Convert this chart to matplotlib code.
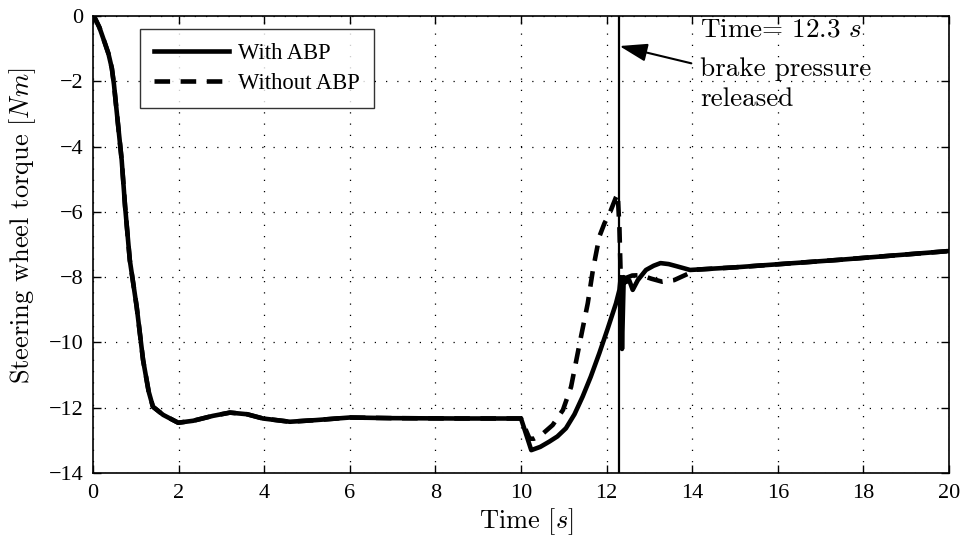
import matplotlib
matplotlib.use("Agg")
import matplotlib.pyplot as plt

# Steering wheel torque during braking, with and without ABP
t_with = [0, 0.05, 0.15, 0.28, 0.36, 0.44, 0.49, 0.55, 0.67, 0.75, 0.86, 1.02, 1.17, 1.30, 1.40,
          1.64, 1.99, 2.34, 2.8, 3.2, 3.6, 3.97, 4.6, 5.2, 6.0, 7.0, 8.56, 9.5,
          10.0, 10.24, 10.45, 10.66, 10.85, 11.05, 11.25, 11.44, 11.63, 11.83,
          12.02, 12.22, 12.30, 12.33, 12.36, 12.40, 12.45, 12.53, 12.61, 12.73,
          12.92, 13.1, 13.26, 13.45, 13.62, 13.95, 15.0, 17.43, 20.0]
y_with = [0, -0.08, -0.35, -0.84, -1.15, -1.6, -2.1, -2.88, -4.41, -5.84, -7.48, -8.9, -10.54, -11.5, -11.97,
          -12.22, -12.46, -12.4, -12.25, -12.15, -12.2, -12.33, -12.43, -12.38, -12.3, -12.32, -12.33, -12.33,
          -12.33, -13.3, -13.2, -13.04, -12.88, -12.63, -12.2, -11.66, -11.05, -10.33,
          -9.6, -8.8, -8.39, -8.0, -10.2, -8.0, -8.15, -8.1, -8.39, -8.09,
          -7.78, -7.65, -7.57, -7.6, -7.66, -7.78, -7.7, -7.47, -7.2]

t_without = [0, 0.05, 0.15, 0.28, 0.36, 0.44, 0.49, 0.55, 0.67, 0.75, 0.86, 1.02, 1.17, 1.30, 1.40,
             1.64, 1.99, 2.34, 2.8, 3.2, 3.6, 3.97, 4.6, 5.2, 6.0, 7.0, 8.56, 9.5,
             10.0, 10.2, 10.3, 10.47, 10.74, 10.98, 11.17, 11.37, 11.56, 11.68, 11.83,
             11.95, 12.07, 12.22, 12.26, 12.30, 12.33, 12.4, 12.6, 12.8, 13.05, 13.3, 13.58,
             13.93, 14.1, 15.0, 17.43, 20.0]
y_without = [0, -0.08, -0.35, -0.84, -1.15, -1.6, -2.1, -2.88, -4.41, -5.84, -7.48, -8.9, -10.54, -11.5, -11.97,
             -12.22, -12.46, -12.4, -12.25, -12.15, -12.2, -12.33, -12.43, -12.38, -12.3, -12.32, -12.33, -12.33,
             -12.33, -12.95, -12.95, -12.84, -12.53, -12.07, -11.36, -10.03, -8.8, -7.78, -6.76,
             -6.35, -6.05, -5.55, -5.45, -6.5, -8.0, -8.05, -7.95, -7.94, -8.05, -8.14, -8.09,
             -7.88, -7.77, -7.7, -7.47, -7.2]

release_time = 12.3
x_ticks = [0, 2, 4, 6, 8, 10, 12, 14, 16, 18, 20]
y_ticks = [0, -2, -4, -6, -8, -10, -12, -14]
note_lines = ['Time= 12.3 $s$', 'brake pressure', 'released']

plt.rcParams['mathtext.fontset'] = 'cm'
tick_font = 'Liberation Serif'
label_font = 'cmr10'

W, H = 965, 538
fig = plt.figure(figsize=(W / 100, H / 100), dpi=100)
ax = fig.add_axes([93 / W, 1 - 473 / H, (949 - 93) / W, (473 - 16) / H])

ax.plot(t_with, y_with, color='black', lw=3.3, solid_joinstyle='round',
        label='With ABP')
ax.plot(t_without, y_without, color='black', lw=3.3, linestyle=(0, (3.4, 2.3)),
        dash_capstyle='butt', label='Without ABP')
ax.axvline(release_time, color='black', lw=1.6)

ax.set_xlim(0, 20)
ax.set_ylim(-14, 0)
ax.set_xticks(x_ticks)
ax.set_yticks(y_ticks)
ax.set_xticklabels([str(v) for v in x_ticks], fontfamily=tick_font, fontsize=16)
ax.set_yticklabels([str(v).replace('-', '\u2212') for v in y_ticks],
                   fontfamily=tick_font, fontsize=16)
ax.tick_params(axis='x', direction='in', length=6, width=1, top=True, pad=8)
ax.tick_params(axis='y', direction='in', length=6, width=1, right=True, pad=7)
ax.grid(True, color='black', linestyle=(0, (1, 8)), lw=0.9)
for s in ax.spines.values():
    s.set_linewidth(1.2)

ax.set_xlabel(r'Time $[s]$', fontfamily=label_font, fontsize=19)
ax.xaxis.set_label_coords(0.506, -0.073)
ax.set_ylabel(r'Steering wheel torque $[Nm]$', fontfamily=label_font, fontsize=19)
ax.yaxis.set_label_coords(-0.064, 0.54)

leg = ax.legend(loc='upper left', bbox_to_anchor=(0.055, 0.972),
                prop={'family': tick_font, 'size': 16.3}, frameon=True,
                fancybox=False, handlelength=3.3, handletextpad=0.4,
                borderpad=0.62, labelspacing=0.42, borderaxespad=0)
leg.get_frame().set_edgecolor('black')
leg.get_frame().set_linewidth(1.0)

# annotation marking the brake pressure release
for line, yb in zip(note_lines, [-0.64, -1.84, -2.76]):
    ax.text(14.18, yb, line, fontfamily=label_font, fontsize=19.5,
            va='baseline', ha='left')
ax.annotate('', xy=(release_time, -0.92), xytext=(13.98, -1.45),
            arrowprops=dict(arrowstyle='-|>,head_length=1.7,head_width=0.55',
                            color='black', lw=1.5, shrinkA=0, shrinkB=0))

fig.savefig('out.png', dpi=100, facecolor='white')
